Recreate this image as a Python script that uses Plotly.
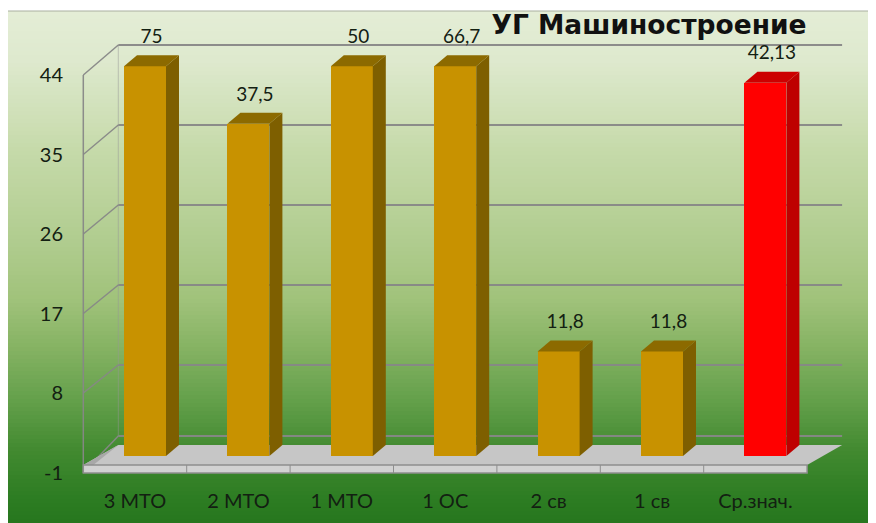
import plotly.graph_objects as go

# ---------------- data ----------------
categories = ["3 МТО", "2 МТО", "1 МТО", "1 ОС", "2 св", "1 св", "Ср.знач."]
values = [75, 37.5, 50, 66.7, 11.8, 11.8, 42.13]
y_ticks = [-1, 8, 17, 26, 35, 44]
highlight_category = "Ср.знач."
title_text = "УГ Машиностроение"

# ---------------- geometry / style ----------------
OFF = 8                      # page body margin of the browser
W, H = 876 - OFF, 523 - OFF  # figure size
ML, MR, MT, MB = 74, 10, 22, 37
PL, PR, PT, PB = ML, W - MR, MT, H - MB   # plot area in figure pixels

# reference-picture pixel geometry (converted with OFF)
X0PX, XSTEP = 145.0, 103.4      # pixel of first category centre, pixels per category
Y0PX, YSCALE = 456.0, 8.86      # pixel of value 0, pixels per value unit


def xd(px):          # reference px -> data x
    return (px - X0PX) / XSTEP


def yd(py):          # reference px -> data y
    return (Y0PX - py) / YSCALE


def fx(px):          # figure px -> data x
    return xd(px + OFF)


def fy(py):          # figure px -> data y
    return yd(py + OFF)


BAR_W = 42 / XSTEP
DEPTH_X = 13 / XSTEP
DEPTH_Y = 11 / YSCALE
FRONT_SHIFT = -10 / XSTEP       # front plane (floor edge, labels)
BACK_SHIFT = 25 / XSTEP         # back wall plane
LABEL_OFF = 28 / YSCALE

GOLD = ("#C89200", "#7E5F00", "#8C6A00")   # front, side, top
RED = ("#FF0000", "#BE0000", "#CC0000")
FONT = "Lato"
TXT = "#132012"

top_tick = max(y_ticks)
step = y_ticks[1] - y_ticks[0]
n = len(categories)
xs = list(range(n))
heights = [min(v, top_tick) for v in values]
palettes = [RED if c == highlight_category else GOLD for c in categories]


def fmt(v):
    return f"{v:g}".replace(".", ",")


fig = go.Figure()

# front faces
fig.add_trace(go.Bar(
    x=xs, y=heights, base=0, width=BAR_W,
    marker=dict(color=[p[0] for p in palettes], line=dict(width=0)),
    hoverinfo="skip", showlegend=False,
))

# side and top faces of each column
for x, h, p in zip(xs, heights, palettes):
    xl, xr = x - BAR_W / 2, x + BAR_W / 2
    fig.add_trace(go.Scatter(
        x=[xr, xr + DEPTH_X, xr + DEPTH_X, xr, xr],
        y=[0, DEPTH_Y, h + DEPTH_Y, h, 0],
        fill="toself", fillcolor=p[1], mode="lines", line=dict(width=0, color=p[1]),
        hoverinfo="skip", showlegend=False,
    ))
    fig.add_trace(go.Scatter(
        x=[xl, xr, xr + DEPTH_X, xl + DEPTH_X, xl],
        y=[h, h, h + DEPTH_Y, h + DEPTH_Y, h],
        fill="toself", fillcolor=p[2], mode="lines", line=dict(width=0, color=p[2]),
        hoverinfo="skip", showlegend=False,
    ))

# data labels
fig.add_trace(go.Scatter(
    x=[x + DEPTH_X / 2 for x in xs],
    y=[h + LABEL_OFF for h in heights],
    text=[fmt(v) for v in values],
    mode="text", textposition="middle center", cliponaxis=False,
    textfont=dict(family=FONT, size=19, color=TXT),
    hoverinfo="skip", showlegend=False,
))

shapes = []

# background gradient (paper coordinates, reference px)
stops = [(11, (228, 237, 214)), (60, (222, 233, 206)), (150, (198, 218, 170)),
         (250, (174, 203, 140)), (300, (160, 194, 122)), (350, (132, 178, 98)),
         (400, (100, 160, 75)), (450, (66, 138, 48)), (500, (44, 124, 34)),
         (523, (38, 118, 30))]


def col_at(py):
    for (y1, c1), (y2, c2) in zip(stops, stops[1:]):
        if y1 <= py <= y2:
            t = (py - y1) / (y2 - y1)
            return "rgb(%d,%d,%d)" % tuple(round(a + (b - a) * t) for a, b in zip(c1, c2))
    return "rgb(%d,%d,%d)" % stops[-1][1]


def pxp(px):   # reference px -> paper x
    return (px - OFF - PL) / (PR - PL)


def pyp(py):   # reference px -> paper y
    return (PB - (py - OFF)) / (PB - PT)


py = 11
while py < 523:
    c = col_at(py + 2)
    shapes.append(dict(type="rect", xref="paper", yref="paper", layer="below",
                       x0=pxp(6), x1=pxp(890), y0=pyp(py + 4.5), y1=pyp(py),
                       fillcolor=c, line=dict(width=0)))
    py += 4
shapes.append(dict(type="rect", xref="paper", yref="paper", layer="below",
                   x0=pxp(6), x1=pxp(900), y0=pyp(540), y1=pyp(11),
                   fillcolor="rgba(0,0,0,0)", line=dict(width=1, color="#a9b0a0")))

GRID = "rgba(135,135,135,0.95)"
x_front_l = -0.5 + FRONT_SHIFT
x_front_r = n - 0.5 + FRONT_SHIFT
x_back_l = -0.5 + BACK_SHIFT
x_back_r = n - 0.5 + BACK_SHIFT

FLOOR_FRONT_TOP, FLOOR_FRONT_BOT, FLOOR_BACK = 465, 473, 445


def py_front(t):
    return 75 + (top_tick - t) / step * 79.5


def py_back(t):
    return min(45 + (top_tick - t) / step * 80, FLOOR_BACK - 9)


# walls: vertical edges
shapes.append(dict(type="line", xref="x", yref="y", layer="below",
                   x0=x_front_l, x1=x_front_l, y0=yd(py_front(top_tick)), y1=yd(FLOOR_FRONT_BOT),
                   line=dict(color=GRID, width=1.5)))
shapes.append(dict(type="line", xref="x", yref="y", layer="below",
                   x0=x_back_l, x1=x_back_l, y0=yd(py_back(top_tick)), y1=yd(py_back(min(y_ticks))),
                   line=dict(color="rgba(150,150,150,0.5)", width=1)))
# gridlines
for t in y_ticks:
    shapes.append(dict(type="line", xref="x", yref="y", layer="below",
                       x0=x_front_l, x1=x_back_l, y0=yd(py_front(t)), y1=yd(py_back(t)),
                       line=dict(color=GRID, width=1.5)))
    shapes.append(dict(type="line", xref="x", yref="y", layer="below",
                       x0=x_back_l, x1=x_back_r, y0=yd(py_back(t)), y1=yd(py_back(t)),
                       line=dict(color=GRID, width=2)))

# floor
shapes.append(dict(type="path", xref="x", yref="y", layer="below",
                   path="M %f,%f L %f,%f L %f,%f L %f,%f Z" % (
                       x_front_l, yd(FLOOR_FRONT_TOP), x_front_r, yd(FLOOR_FRONT_TOP),
                       x_back_r, yd(FLOOR_BACK), x_back_l, yd(FLOOR_BACK)),
                   fillcolor="#c6c6c6", line=dict(width=0)))
shapes.append(dict(type="path", xref="x", yref="y", layer="below",
                   path="M %f,%f L %f,%f L %f,%f Z" % (
                       x_front_l, yd(FLOOR_FRONT_BOT), x_front_l, yd(FLOOR_FRONT_TOP),
                       x_back_l, yd(FLOOR_BACK)),
                   fillcolor="#a8a8a8", line=dict(width=0)))
shapes.append(dict(type="rect", xref="x", yref="y", layer="below",
                   x0=x_front_l, x1=x_front_r, y0=yd(FLOOR_FRONT_BOT), y1=yd(FLOOR_FRONT_TOP),
                   fillcolor="#d2d2d2", line=dict(width=1.5, color="#8e8e8e")))
for k in range(1, n):
    xb = k - 0.5 + FRONT_SHIFT
    shapes.append(dict(type="line", xref="x", yref="y", layer="below",
                       x0=xb, x1=xb, y0=yd(FLOOR_FRONT_BOT), y1=yd(FLOOR_FRONT_TOP),
                       line=dict(color="#8e8e8e", width=1)))

fig.update_layout(
    width=W, height=H,
    margin=dict(l=ML, r=MR, t=MT, b=MB, pad=0),
    paper_bgcolor="white", plot_bgcolor="rgba(0,0,0,0)",
    shapes=shapes,
    showlegend=False,
    bargap=0,
    title=dict(text="<b>" + title_text + "</b>", x=(649 - OFF) / W, xanchor="center",
               y=1 - (25 - OFF) / H, yanchor="middle",
               font=dict(family="DejaVu Sans", size=26.5, color="#111111")),
    xaxis=dict(range=[fx(PL), fx(PR)], showgrid=False, zeroline=False, showline=False,
               tickmode="array", tickvals=[x + FRONT_SHIFT for x in xs], ticktext=categories,
               ticks="", ticklabelstandoff=1,
               tickfont=dict(family=FONT, size=20, color=TXT), fixedrange=True),
    yaxis=dict(range=[fy(PB), fy(PT)], showgrid=False, zeroline=False, showline=False,
               tickmode="array", tickvals=[yd(py_front(t)) for t in y_ticks],
               ticktext=[str(t) for t in y_ticks], ticks="", ticklabelstandoff=18,
               tickfont=dict(family=FONT, size=20, color=TXT), fixedrange=True),
)

fig.write_html("out.html")
